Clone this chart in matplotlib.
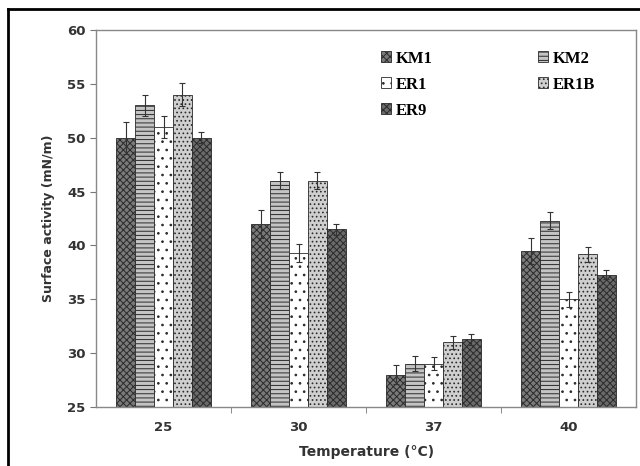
import numpy as np
import matplotlib.pyplot as plt
from matplotlib.lines import Line2D

# data
temps = ['25', '30', '37', '40']
strains = ['KM1', 'KM2', 'ER1', 'ER1B', 'ER9']
km1 = [50.0, 42.0, 28.0, 39.5]
km2 = [53.0, 46.0, 29.0, 42.3]
er1 = [51.0, 39.3, 29.0, 35.0]
er1b = [54.0, 46.0, 31.0, 39.2]
er9 = [50.0, 41.5, 31.3, 37.3]
km1_err = [1.5, 1.3, 0.9, 1.2]
km2_err = [1.0, 0.8, 0.7, 0.8]
er1_err = [1.0, 0.8, 0.6, 0.7]
er1b_err = [1.1, 0.8, 0.6, 0.7]
er9_err = [0.5, 0.5, 0.5, 0.4]

vals = [km1, km2, er1, er1b, er9]
errs = [km1_err, km2_err, er1_err, er1b_err, er9_err]

# bar styles (face, hatch)
styles = [('#7a7a7a', 'xxxxx'), ('#c4c4c4', '----'), ('white', '..'),
          ('#cfcfcf', '....'), ('#6a6a6a', 'xxxxx')]

plt.rcParams['hatch.linewidth'] = 0.7
fig = plt.figure(figsize=(6.4, 4.66), dpi=100)
ax = fig.add_axes([0.15, 0.1266, 0.844, 0.809])

x = np.arange(len(temps))
bw = 0.14
handles = []
for i, (v, e, (fc, h)) in enumerate(zip(vals, errs, styles)):
    pos = x + (i - 2) * bw
    b = ax.bar(pos, np.array(v) - 25, bw, bottom=25, color=fc, hatch=h,
               edgecolor='#2a2a2a', linewidth=0.6, label=strains[i])
    ax.errorbar(pos, v, yerr=e, fmt='none', ecolor='#333333', elinewidth=0.8,
                capsize=2.5, capthick=0.8)
    handles.append(b)

ax.set_ylim(25, 60)
ax.set_xlim(-0.5, 3.5)
ax.set_yticks(np.arange(25, 61, 5))
ax.set_xticks(x)
ax.set_xticklabels(temps)
ax.set_xticks(np.arange(0.5, 3.5, 1), minor=True)
ax.tick_params(axis='x', which='major', length=0, pad=10)
ax.tick_params(axis='x', which='minor', length=4, direction='out', color='#777777')
ax.tick_params(axis='y', length=4, direction='out', color='#777777')
for lab in ax.get_xticklabels() + ax.get_yticklabels():
    lab.set_fontweight('bold')
    lab.set_fontsize(9.5)
    lab.set_color('#333333')
for s in ax.spines.values():
    s.set_color('#888888')
    s.set_linewidth(1.0)

ax.set_ylabel('Surface activity (mN/m)', fontsize=9, fontweight='bold', color='#333333', labelpad=9)
ax.set_xlabel('Temperature (\u00b0C)', fontsize=10, fontweight='bold', color='#333333', labelpad=8)

# legend: column-first order -> KM1, ER1, ER9 | KM2, ER1B
order = [0, 2, 4, 1, 3]
ax.legend([handles[i] for i in order], [strains[i] for i in order], ncol=2,
          loc='upper left', bbox_to_anchor=(0.5, 0.985), frameon=False,
          prop={'family': 'Liberation Serif', 'weight': 'bold', 'size': 12},
          handlelength=0.6, handleheight=0.6, handletextpad=0.3,
          columnspacing=6.3, labelspacing=0.6)

# outer frame of the original image
fig.add_artist(Line2D([8 / 640, 1.0], [1 - 9 / 466, 1 - 9 / 466], color='black', lw=2))
fig.add_artist(Line2D([8 / 640, 8 / 640], [0.0, 1 - 9 / 466], color='black', lw=2))

fig.savefig('out.png', dpi=100)
